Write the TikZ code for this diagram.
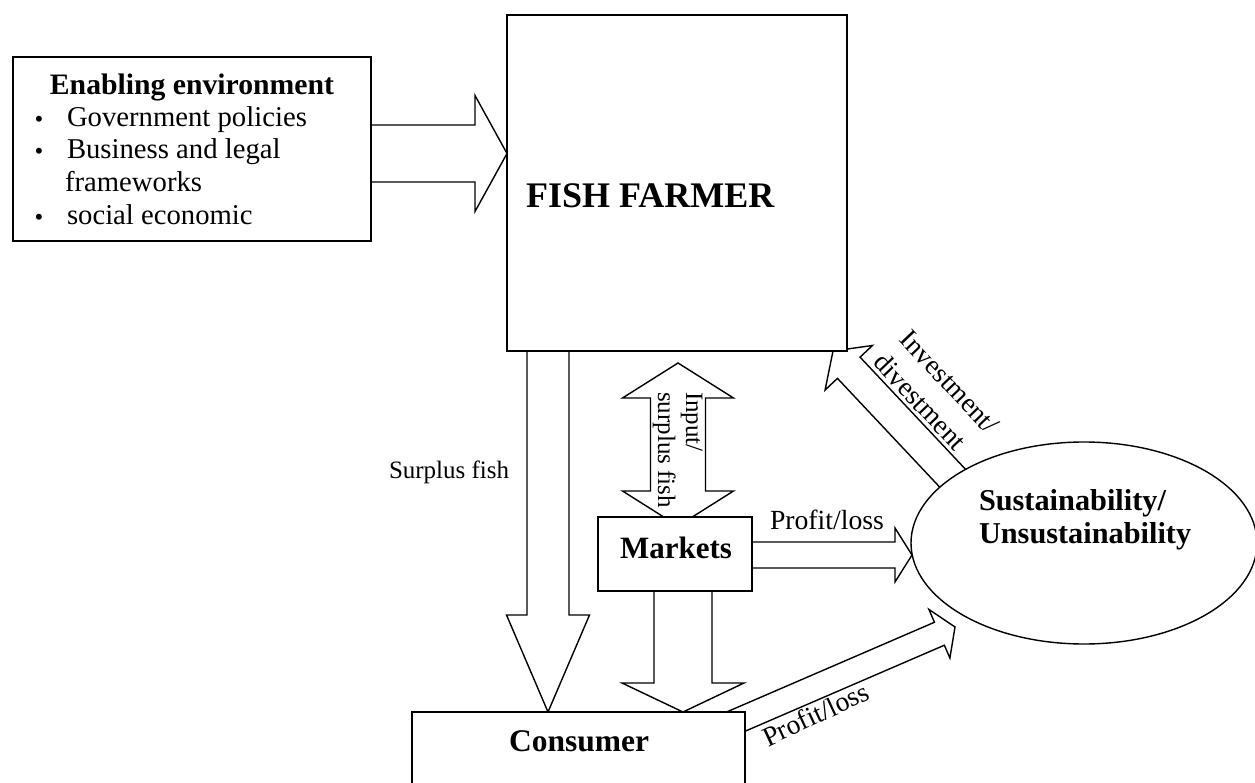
\documentclass[tikz,border=0pt]{standalone}
\usepackage{fontspec}
\setmainfont{Liberation Serif}
\usetikzlibrary{calc,shapes.geometric}
\pgfdeclarelayer{bg}
\pgfsetlayers{bg,main}
\newcommand{\sz}[1]{\fontsize{#1}{#1}\selectfont}
% block arrow: tail, tip, shaft half width, head half width, head length
\newcommand{\blockarrow}[5]{%
  \coordinate (ba-h) at ($(#2)!#5!(#1)$);
  \draw[blk] ($(#1)!#3!90:(#2)$) -- ($(ba-h)!#3!90:(#2)$) -- ($(ba-h)!#4!90:(#2)$) -- (#2)
    -- ($(ba-h)!#4!-90:(#2)$) -- ($(ba-h)!#3!-90:(#2)$) -- ($(#1)!#3!-90:(#2)$) -- cycle;}
% double block arrow: tip A, tip B, shaft half width, head half width, head length
\newcommand{\dblarrow}[5]{%
  \coordinate (da-a) at ($(#1)!#5!(#2)$);
  \coordinate (da-b) at ($(#2)!#5!(#1)$);
  \draw[blk] (#1) -- ($(da-a)!#4!90:(#2)$) -- ($(da-a)!#3!90:(#2)$) -- ($(da-b)!#3!-90:(#1)$)
    -- ($(da-b)!#4!-90:(#1)$) -- (#2) -- ($(da-b)!#4!90:(#1)$) -- ($(da-b)!#3!90:(#1)$)
    -- ($(da-a)!#3!-90:(#2)$) -- ($(da-a)!#4!-90:(#2)$) -- cycle;}
\begin{document}
\begin{tikzpicture}[x=1pt,y=-1pt,
  box/.style={draw, fill=white, line width=1.4pt, inner sep=0pt, outer sep=0pt},
  blk/.style={draw, fill=white, line width=1.4pt, line join=miter},
  txt/.style={inner sep=0pt, outer sep=0pt}]
\useasboundingbox (0,0) rectangle (1255,783);
\clip (0,0) rectangle (1255,783);
% boxes
\node[box, minimum width=358pt, minimum height=184pt] (enab) at (192,149) {};
\node[box, minimum width=340pt, minimum height=336pt] (farmer) at (677,183) {};
\node[box, minimum width=154pt, minimum height=74pt] (markets) at (675,554) {};
\node[box, minimum width=333pt, minimum height=90pt] (consumer) at (578.5,757) {};
\node[box, ellipse, minimum width=346pt, minimum height=202pt] (sust) at (1084,543) {};
% texts
\node[txt, anchor=base, font=\sz{29.7}\bfseries] (enabt) at (192,95) {Enabling environment};
\node[txt, anchor=base, font=\sz{25}] (b1) at (39,128) {\textbullet};
\node[txt, anchor=base, font=\sz{25}] (b2) at (39,160) {\textbullet};
\node[txt, anchor=base, font=\sz{25}] (b3) at (39,226) {\textbullet};
\node[txt, anchor=base west, font=\sz{28.7}] (i1) at (67,127) {Government policies};
\node[txt, anchor=base west, font=\sz{28.7}] (i2) at (67,159) {Business and legal};
\node[txt, anchor=base west, font=\sz{28.7}] (i3) at (65,192) {frameworks};
\node[txt, anchor=base west, font=\sz{28.7}] (i4) at (67,225) {social economic};
\node[txt, anchor=base west, font=\sz{36}\bfseries] (fft) at (526,208) {FISH FARMER};
\node[txt, anchor=base, font=\sz{31}\bfseries] (mkt) at (676,558) {Markets};
\node[txt, anchor=base, font=\sz{31.5}\bfseries] (cons) at (579,751) {Consumer};
\node[txt, anchor=base west, font=\sz{30.3}\bfseries] (s1) at (979,510) {Sustainability/};
\node[txt, anchor=base west, font=\sz{30.3}\bfseries] (s2) at (979,543) {Unsustainability};
\node[txt, anchor=base west, font=\sz{25}] (surp) at (389,478) {Surplus fish};
\node[txt, anchor=base west, font=\sz{27.7}] (pl1) at (770,529) {Profit/loss};
\node[txt, anchor=base west, font=\sz{27.7}, rotate=25] (pl2) at (768,747) {Profit/loss};
\node[txt, anchor=base west, font=\sz{25}, rotate=-90] (in1) at (686,392) {Input/};
\node[txt, anchor=base west, font=\sz{25}, rotate=-90] (in2) at (658,392) {surplus fish};
\node[txt, anchor=base west, font=\sz{27.5}, rotate=-46.5] (inv1) at (898,341) {Investment/};
\node[txt, anchor=base west, font=\sz{27.5}, rotate=-46.5] (inv2) at (872,364) {divestment};
% arrows (behind the boxes)
\begin{pgfonlayer}{bg}
\fill[white] (0,0) rectangle (1255,783);
\coordinate (a1s) at ($(enab.east)+(-6,4.5)$);
\coordinate (a1t) at ($(farmer.west)+(0,-29.5)$);
\blockarrow{a1s}{a1t}{28.5pt}{58pt}{32pt}
\coordinate (a2s) at ($(farmer.south)+(-129,-6)$);
\coordinate (a2t) at ($(consumer.north)+(-30.5,0)$);
\blockarrow{a2s}{a2t}{21pt}{41.5pt}{97pt}
\coordinate (a3s) at ($(markets.south)+(8,-6)$);
\coordinate (a3t) at ($(consumer.north)+(104.5,0)$);
\blockarrow{a3s}{a3t}{29pt}{61pt}{29pt}
\coordinate (a4a) at ($(farmer.south)+(1,12)$);
\coordinate (a4b) at ($(markets.north)+(3,9)$);
\dblarrow{a4a}{a4b}{27.5pt}{55.5pt}{35pt}
\coordinate (a5s) at ($(markets.east)+(-6,1)$);
\coordinate (a5t) at ($(sust.west)+(1,12)$);
\blockarrow{a5s}{a5t}{13pt}{27pt}{17pt}
\coordinate (a6s) at ($(consumer.north east)+(-17,13)$);
\coordinate (a6t) at ($(sust.center)+(-129,84)$);
\blockarrow{a6s}{a6t}{12.5pt}{26.5pt}{17pt}
\coordinate (a7s) at ($(sust.center)+(-125,-58)$);
\coordinate (a7t) at ($(farmer.south east)+(-14,0)$);
\blockarrow{a7s}{a7t}{15.5pt}{32.5pt}{23pt}
\end{pgfonlayer}
\end{tikzpicture}
\end{document}
